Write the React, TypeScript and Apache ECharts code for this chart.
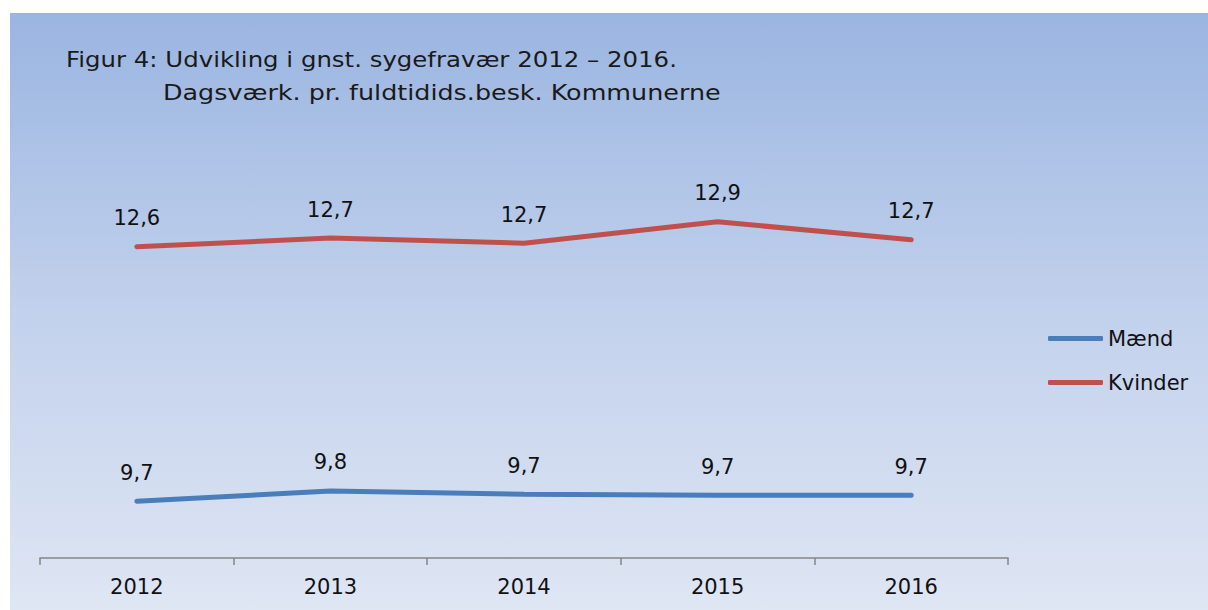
import React, { useEffect, useRef } from "react";
import * as echarts from "echarts";

const years = ["2012", "2013", "2014", "2015", "2016"];
const maend = [9.66, 9.78, 9.74, 9.73, 9.73];
const kvinder = [12.62, 12.72, 12.66, 12.91, 12.7];
const titleLine1 = "Figur 4: Udvikling i gnst. sygefravær 2012 – 2016.";
const titleLine2 = "Dagsværk. pr. fuldtidids.besk. Kommunerne";

const FONT = "'DejaVu Sans', sans-serif";

export default function App() {
  const ref = useRef<HTMLDivElement>(null);
  useEffect(() => {
    if (!ref.current) return;
    const chart = echarts.init(ref.current, undefined, { renderer: "svg" });
    const fmt = (p: any) => Number(p.value).toFixed(1).replace(".", ",");
    const label = {
      show: true,
      position: "top",
      distance: 18,
      fontSize: 21,
      color: "#111",
      fontFamily: FONT,
      formatter: fmt,
    };
    chart.setOption({
      animation: false,
      backgroundColor: "#ffffff",
      textStyle: { fontFamily: FONT },
      graphic: [
        {
          type: "rect",
          z: -10,
          silent: true,
          shape: { x: 10, y: 13, width: 1198, height: 597 },
          style: {
            fill: new echarts.graphic.LinearGradient(0, 0, 0, 1, [
              { offset: 0, color: "#9AB5E1" },
              { offset: 0.5, color: "#C2D1EC" },
              { offset: 1, color: "#DFE6F4" },
            ]),
          },
        },
        {
          type: "text",
          x: 66,
          y: 59,
          scaleX: 1.11,
          style: { text: titleLine1, font: `22px ${FONT}`, fill: "#1a1a1a", verticalAlign: "middle" },
        },
        {
          type: "text",
          x: 163,
          y: 93,
          scaleX: 1.155,
          style: { text: titleLine2, font: `22px ${FONT}`, fill: "#1a1a1a", verticalAlign: "middle" },
        },
      ],
      grid: { left: 40, right: 200, top: 128, bottom: 52 },
      legend: {
        orient: "vertical",
        left: 1048,
        top: 328,
        padding: 0,
        itemWidth: 55,
        itemHeight: 5,
        itemGap: 23,
        textStyle: { fontSize: 21, color: "#111", fontFamily: FONT },
        data: [
          { name: "Mænd", icon: "roundRect" },
          { name: "Kvinder", icon: "roundRect" },
        ],
      },
      xAxis: {
        type: "category",
        data: years,
        boundaryGap: true,
        axisLine: { lineStyle: { color: "#868686", width: 1.5 } },
        axisTick: { show: true, length: 7, lineStyle: { color: "#868686", width: 1.5 } },
        axisLabel: { fontSize: 21, color: "#111", margin: 18, fontFamily: FONT },
      },
      yAxis: {
        type: "value",
        min: 9,
        max: 14,
        show: false,
        splitLine: { show: false },
      },
      series: [
        {
          name: "Mænd",
          type: "line",
          data: maend,
          symbol: "circle",
          symbolSize: 0,
          showSymbol: true,
          color: "#4A7EBB",
          lineStyle: { width: 5, color: "#4A7EBB", cap: "round" },
          label,
        },
        {
          name: "Kvinder",
          type: "line",
          data: kvinder,
          symbol: "circle",
          symbolSize: 0,
          showSymbol: true,
          color: "#C0504D",
          lineStyle: { width: 5, color: "#C0504D", cap: "round" },
          label,
        },
      ],
    });
    return () => chart.dispose();
  }, []);
  return (
    <div
      ref={ref}
      style={{ position: "fixed", left: 0, top: 0, width: 1208, height: 610 }}
    />
  );
}
